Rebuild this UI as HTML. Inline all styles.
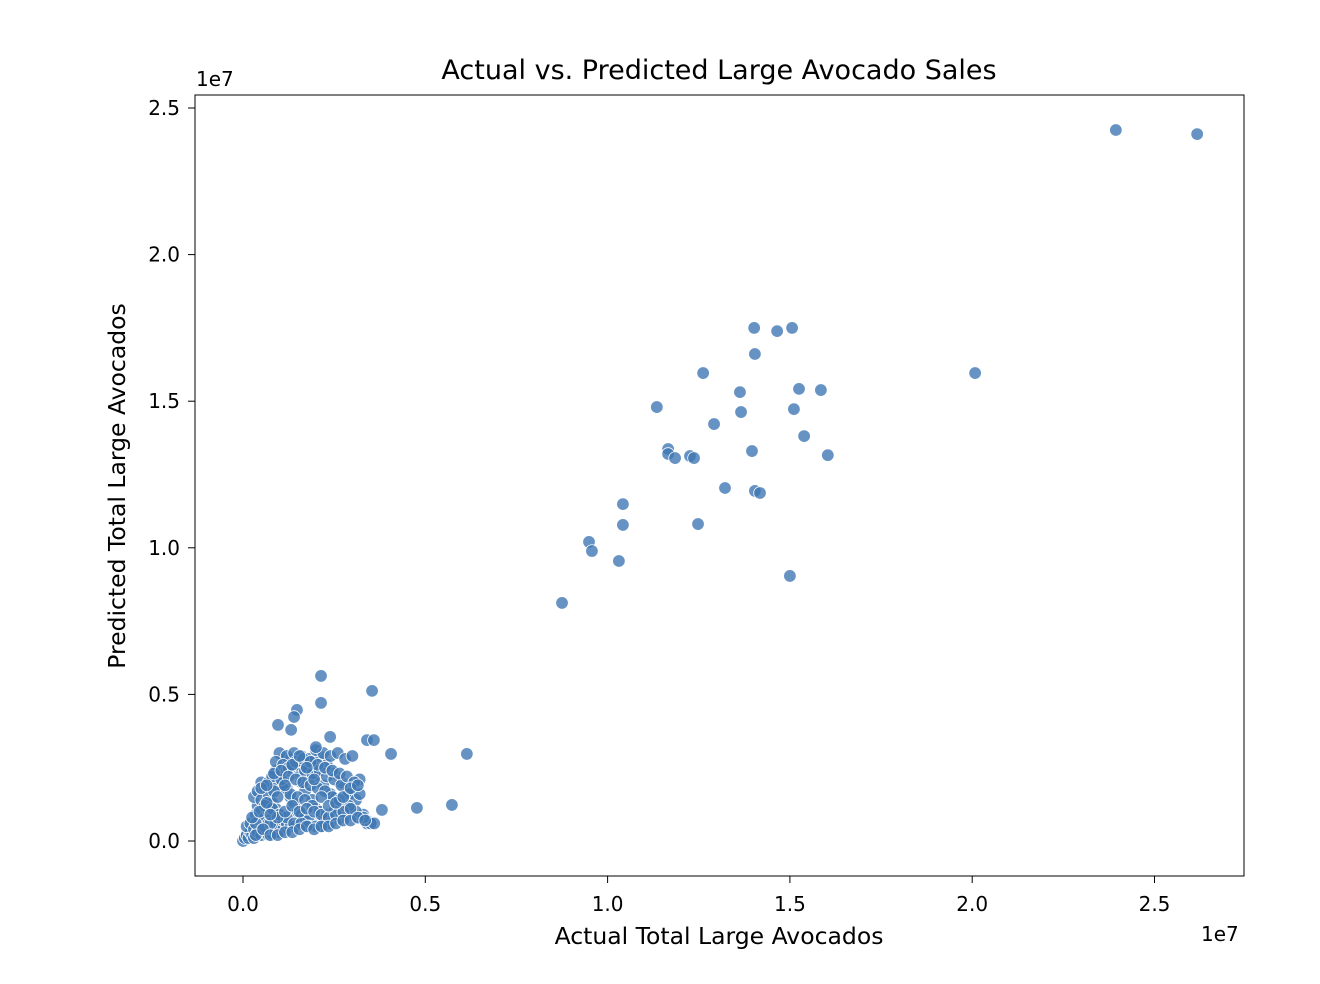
<!DOCTYPE html>
<html><head><meta charset="utf-8">
<style>
html,body{margin:0;padding:0;background:#fff;}
svg{display:block;font-family:"DejaVu Sans","Liberation Sans",sans-serif;}
</style></head>
<body>
<svg id="chart" width="1320" height="984" viewBox="0 0 1320 984">
  <rect x="0" y="0" width="1320" height="984" fill="#fff"/>
  <g id="points"></g>
  <rect x="195" y="95" width="1049" height="781" fill="none" stroke="#000" stroke-width="1"/>
  <g id="xticks"></g>
  <g id="yticks"></g>
  <text x="719" y="79" text-anchor="middle" font-size="27" fill="#000">Actual vs. Predicted Large Avocado Sales</text>
  <text x="719" y="944" text-anchor="middle" font-size="23.5" fill="#000">Actual Total Large Avocados</text>
  <text transform="translate(125,486) rotate(-90)" text-anchor="middle" font-size="23.5" fill="#000">Predicted Total Large Avocados</text>
  <text x="196" y="86" font-size="20" fill="#000">1e7</text>
  <text x="1201" y="941" font-size="20" fill="#000">1e7</text>
</svg>
<script>
// values in millions
const xTickValues = [0, 5, 10, 15, 20, 25];
const xTickLabels = ["0.0", "0.5", "1.0", "1.5", "2.0", "2.5"];
const yTickValues = [0, 5, 10, 15, 20, 25];
const yTickLabels = ["0.0", "0.5", "1.0", "1.5", "2.0", "2.5"];

const actualValues = [
 23.94,26.17,20.08,8.75,9.49,9.57,10.31,10.42,10.42,11.35,11.66,11.66,11.85,12.26,12.37,12.48,12.62,12.92,13.22,13.63,13.66,13.96,14.02,14.04,14.04,14.18,14.65,15.00,15.06,15.11,15.25,15.39,15.85,16.04,
 2.14,3.54,2.14,1.48,1.40,0.96,1.32,2.39,3.40,3.59,4.06,6.14,5.73,4.77,3.81,
 0.0,0.05,0.1,0.15,0.2,0.25,0.3,0.1,0.2,0.3,0.4,0.5,0.35,0.45,0.55,0.6,0.7,0.8,0.4,0.5,0.6,0.7,0.8,0.9,1.0,
 0.3,0.4,0.5,0.6,0.7,0.8,0.9,1.0,1.1,1.2,0.5,0.6,0.7,0.8,0.9,1.0,1.1,1.2,1.3,1.4,
 0.9,1.0,1.1,1.2,1.3,1.4,1.5,1.6,1.7,1.8,1.2,1.3,1.5,1.6,1.7,1.9,2.0,2.1,2.2,2.3,
 1.5,1.7,1.9,2.1,2.3,2.5,2.7,2.9,1.8,2.0,2.2,2.4,2.6,2.8,3.0,3.2,3.4,3.5,
 1.0,1.2,1.4,1.6,1.8,2.0,2.2,2.4,2.6,2.8,3.0,3.2,0.9,1.1,1.3,1.5,1.7,1.9,2.1,2.3,2.5,2.7,2.9,3.1,
 0.7,0.9,1.1,1.3,1.5,1.7,1.9,2.1,2.3,2.5,2.7,0.6,0.8,1.0,1.2,1.4,1.6,1.8,2.0,2.2,2.4,
 3.3,3.1,2.9,3.4,3.5,3.3,3.6,3.2,2.0,1.2,0.5,0.8,0.35,0.25,
 0.45,0.65,0.85,1.05,1.25,1.45,1.65,1.85,2.05,2.25,2.45,2.65,2.85,3.05,
 0.55,0.75,0.95,1.15,1.35,1.55,1.75,1.95,2.15,2.35,2.55,2.75,2.95,
 0.65,0.85,1.05,1.25,1.45,1.65,1.85,2.05,2.25,2.45,2.65,
 0.75,0.95,1.15,1.35,1.55,1.75,1.95,2.15,2.35,2.55,2.75,2.95,3.15,
 0.35,0.55,0.75,0.95,1.15,1.35,1.55,1.75,1.95,2.15,2.35,2.55,2.75,2.95,3.15,3.35
];
const predictedValues = [
 24.25,24.11,15.96,8.12,10.20,9.89,9.55,11.49,10.78,14.80,13.37,13.20,13.06,13.13,13.06,10.81,15.96,14.22,12.04,15.31,14.63,13.30,17.50,16.61,11.94,11.87,17.39,9.04,17.50,14.73,15.42,13.81,15.38,13.16,
 5.63,5.12,4.71,4.47,4.23,3.96,3.79,3.55,3.44,3.44,2.97,2.97,1.23,1.13,1.06,
 0.0,0.1,0.2,0.1,0.3,0.2,0.1,0.5,0.6,0.4,0.3,0.2,0.9,0.7,0.5,0.3,0.2,0.25,1.2,1.0,0.8,0.6,0.4,0.3,0.3,
 1.5,1.7,1.4,1.2,1.0,0.8,0.6,0.5,0.4,0.4,2.0,1.8,1.6,1.3,1.1,0.9,0.7,0.6,0.5,0.5,
 2.4,2.2,2.0,1.8,1.5,1.3,1.0,0.9,0.8,0.7,2.8,2.6,2.3,2.0,1.7,1.4,1.1,0.9,0.8,0.7,
 2.9,2.8,2.7,2.9,2.6,2.3,2.0,1.7,2.5,2.2,1.9,1.6,1.3,1.1,0.9,0.8,0.7,0.6,
 3.0,2.9,3.0,2.9,2.8,3.1,3.0,2.9,3.0,2.8,2.9,2.1,2.7,2.6,2.5,2.6,2.4,2.3,2.4,2.2,2.1,1.9,1.6,1.4,
 2.0,1.9,1.8,1.6,1.5,1.4,1.2,1.0,0.9,1.0,0.8,1.2,1.1,0.9,0.8,0.6,0.6,0.5,0.5,0.5,0.6,
 0.9,1.0,1.2,0.6,0.6,0.8,0.6,1.6,3.2,2.4,1.8,2.2,0.6,0.8,
 1.0,1.3,1.7,2.1,2.5,2.7,2.8,2.7,2.6,2.5,2.4,2.3,2.2,2.0,
 0.4,0.6,0.8,1.0,1.2,1.0,1.1,1.0,0.9,0.8,0.9,1.0,1.1,
 1.9,2.3,2.4,2.2,2.1,2.0,1.9,1.8,1.7,1.5,1.4,
 0.9,1.5,1.9,2.6,2.9,2.5,2.1,1.5,1.2,1.3,1.5,1.8,1.9,
 0.2,0.4,0.2,0.2,0.3,0.3,0.4,0.5,0.4,0.5,0.5,0.6,0.7,0.7,0.8,0.7
];

const NS = "http://www.w3.org/2000/svg";
function xScale(v){ return 243 + v * 36.46; }
function yScale(v){ return 841 - v * 29.32; }

const pts = document.getElementById("points");
for (let i = 0; i < actualValues.length; i++) {
  const c = document.createElementNS(NS, "circle");
  c.setAttribute("cx", xScale(actualValues[i]));
  c.setAttribute("cy", yScale(predictedValues[i]));
  c.setAttribute("r", 6.3);
  c.setAttribute("fill", "rgba(64,120,180,0.8)");
  c.setAttribute("stroke", "#fff");
  c.setAttribute("stroke-width", "0.8");
  
  
  pts.appendChild(c);
}

const xg = document.getElementById("xticks");
for (let i = 0; i < xTickValues.length; i++) {
  const x = xScale(xTickValues[i]);
  const l = document.createElementNS(NS, "line");
  l.setAttribute("x1", x); l.setAttribute("x2", x);
  l.setAttribute("y1", 876); l.setAttribute("y2", 883);
  l.setAttribute("stroke", "#000");
  
  
  xg.appendChild(l);
  const t = document.createElementNS(NS, "text");
  t.setAttribute("x", x); t.setAttribute("y", 911);
  t.setAttribute("text-anchor", "middle");
  t.setAttribute("font-size", "20");
  t.textContent = xTickLabels[i];
  
  
  xg.appendChild(t);
}
const yg = document.getElementById("yticks");
for (let i = 0; i < yTickValues.length; i++) {
  const y = yScale(yTickValues[i]);
  const l = document.createElementNS(NS, "line");
  l.setAttribute("x1", 188); l.setAttribute("x2", 195);
  l.setAttribute("y1", y); l.setAttribute("y2", y);
  l.setAttribute("stroke", "#000");
  
  
  yg.appendChild(l);
  const t = document.createElementNS(NS, "text");
  t.setAttribute("x", 180); t.setAttribute("y", y + 7);
  t.setAttribute("text-anchor", "end");
  t.setAttribute("font-size", "20");
  t.textContent = yTickLabels[i];
  
  
  yg.appendChild(t);
}
</script>
</body></html>
